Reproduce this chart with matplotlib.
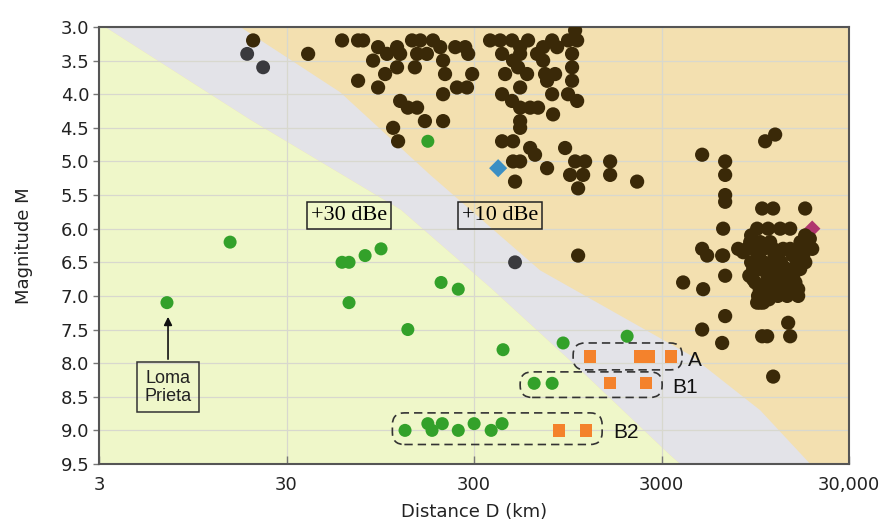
import matplotlib
matplotlib.use("Agg")
import matplotlib.pyplot as plt
from matplotlib.patches import Polygon, FancyBboxPatch

# ---- data (distance km, magnitude) ----
dark_D = [19.9, 39.1, 59.3, 72.2, 76.8, 92.3, 103, 116.5, 121, 86.8, 116.5, 100.6, 72.2, 92.3,
          140, 155, 181, 198, 149, 168, 145, 205, 210, 205, 121, 133, 149, 164, 205, 111, 118,
          238, 269, 279, 293, 243, 275, 365, 413, 478, 582, 782, 951, 1037, 1063, 423, 528, 528,
          484, 650, 700, 831, 999, 700, 439, 515, 575, 717, 811, 999, 999, 735, 528, 423, 478,
          528, 597, 658, 782, 951, 1063, 791, 528, 528, 423, 484, 597, 634, 917,
          484, 528, 735, 1037, 1172, 975, 1144, 1076, 1594, 1594, 2220, 496, 1076,
          12090, 10693, 4933, 6543, 6543, 6543, 6543, 10306, 11797, 17472, 6384, 9692, 11094,
          12856, 14536, 17472, 8896, 10055, 11370, 17907, 8574, 9692, 11797, 13339, 14536,
          17907, 19051, 4933, 7676, 6306, 5246, 6384, 8163, 15841, 17050, 9229, 10433, 11797,
          15081, 16435, 9459, 10960, 12392, 14536, 16035, 12856, 15081, 14008, 16035, 9692,
          10433, 11797, 14183, 3906, 4994, 6543, 6543, 4933, 6306, 10306, 10960, 14536, 11797,
          10055, 12000, 13000, 10000, 9000, 11000, 10000, 13500, 12500, 8800, 10500, 16500, 17500,
          9000, 9500, 10500, 11500, 12500, 9200, 10000, 11000, 12000, 13000, 14000, 15000,
          16000, 17000, 15500, 14800, 18500, 9800, 11200, 12800]
dark_M = [3.2, 3.4, 3.2, 3.2, 3.2, 3.3, 3.4, 3.3, 3.4, 3.5, 3.6, 3.7, 3.8, 3.9,
          3.2, 3.2, 3.2, 3.3, 3.4, 3.4, 3.6, 3.5, 3.7, 4.0, 4.1, 4.2, 4.2, 4.4, 4.4, 4.5, 4.7,
          3.3, 3.3, 3.4, 3.7, 3.9, 3.9, 3.2, 3.2, 3.2, 3.2, 3.2, 3.2, 3.05, 3.2, 3.4, 3.3, 3.4,
          3.5, 3.4, 3.3, 3.3, 3.4, 3.5, 3.7, 3.6, 3.7, 3.7, 3.7, 3.6, 3.8, 3.8, 3.9, 4.0, 4.1,
          4.2, 4.2, 4.2, 4.0, 4.0, 4.1, 4.3, 4.4, 4.5, 4.7, 4.7, 4.8, 4.9, 4.8,
          5.0, 5.0, 5.1, 5.0, 5.0, 5.2, 5.2, 5.4, 5.0, 5.2, 5.3, 5.3, 6.4,
          4.6, 4.7, 4.9, 5.0, 5.2, 5.5, 5.6, 5.7, 5.7, 5.7, 6.0, 6.0, 6.0,
          6.0, 6.0, 6.1, 6.2, 6.2, 6.2, 6.2, 6.3, 6.35, 6.3, 6.3, 6.3,
          6.3, 6.3, 6.3, 6.3, 6.4, 6.4, 6.4, 6.35, 6.5, 6.4, 6.6, 6.6, 6.5,
          6.6, 6.6, 6.8, 6.8, 6.9, 6.8, 6.9, 6.7, 6.7, 7.0, 7.0, 7.1,
          7.1, 6.9, 7.4, 6.8, 6.9, 6.7, 7.3, 7.5, 7.7, 7.6, 7.6, 7.6, 8.2,
          7.1, 6.4, 6.5, 6.45, 6.5, 6.7, 6.9, 6.85, 7.0, 6.7, 6.3, 6.2, 6.5,
          6.1, 6.25, 6.5, 6.55, 6.6, 6.75, 6.6, 6.9, 6.8, 6.95, 6.6, 6.4,
          6.45, 6.3, 6.8, 6.9, 6.15, 7.0, 7.05, 6.35]

grey_D = [18.5, 22.5, 496]
grey_M = [3.4, 3.6, 6.5]

green_D = [170, 15.0, 6.91, 59.3, 64.6, 78.7, 95.7, 64.6, 200, 247, 133, 428, 895, 1964,
           627, 782, 128.5, 170, 179, 203, 247, 300, 370, 423]
green_M = [4.7, 6.2, 7.1, 6.5, 6.5, 6.4, 6.3, 7.1, 6.8, 6.9, 7.5, 7.8, 7.7, 7.6,
           8.3, 8.3, 9.0, 8.9, 9.0, 8.9, 9.0, 8.9, 9.0, 8.9]

orange_D = [1247, 2300, 2550, 3372, 1594, 2480, 852, 1187]
orange_M = [7.9, 7.9, 7.9, 7.9, 8.3, 8.3, 9.0, 9.0]

blue_D, blue_M = [403], [5.1]
pink_D, pink_M = [19051], [6.0]

# region boundaries (distance, magnitude)
green_edge_D = [3.23, 19.2, 122, 374, 1103, 3330, 3766]
green_edge_M = [3.0, 4.38, 5.72, 6.9, 8.1, 9.37, 9.5]
tan_edge_D = [17.0, 57.9, 175, 675, 4257, 10056, 18600]
tan_edge_M = [3.0, 3.97, 5.2, 6.62, 7.88, 8.7, 9.5]

# groups: name, D range, M range, label position
groups = [("A", 1012, 3858, 7.70, 8.10, 4153, 7.96),
          ("B1", 528, 3019, 8.13, 8.51, 3413, 8.36),
          ("B2", 110, 1445, 8.74, 9.21, 1653, 9.03)]

xticks = [3, 30, 300, 3000, 30000]
xtick_labels = ["3", "30", "300", "3000", "30,000"]
yticks = [3.0, 3.5, 4.0, 4.5, 5.0, 5.5, 6.0, 6.5, 7.0, 7.5, 8.0, 8.5, 9.0, 9.5]

fig = plt.figure(figsize=(8.92, 5.25), dpi=100)
ax = fig.add_axes([0.111, 0.1162, 0.841, 0.8324])
ax.set_xscale("log")
ax.set_xlim(3, 30000)
ax.set_ylim(9.5, 3.0)
ax.set_facecolor("#f3e0b0")

# background bands
green_poly = [(3, 3.0)] + list(zip(green_edge_D, green_edge_M)) + [(3, 9.5)]
grey_poly = list(zip(green_edge_D, green_edge_M)) + list(zip(tan_edge_D, tan_edge_M))[::-1]
ax.add_patch(Polygon(grey_poly, closed=True, fc="#e3e3e8", ec="none", zorder=0.2))
ax.add_patch(Polygon(green_poly, closed=True, fc="#eff7c9", ec="none", zorder=0.2))

ax.set_axisbelow(True)
ax.grid(True, color="#d8d8ce", lw=0.9)

ax.scatter(dark_D, dark_M, s=105, c="#3a2908", edgecolors="none", zorder=3)
ax.scatter(grey_D, grey_M, s=100, c="#3a3a3e", edgecolors="none", zorder=3)
ax.scatter(green_D, green_M, s=88, c="#33a12a", edgecolors="none", zorder=3)
ax.scatter(orange_D, orange_M, s=78, marker="s", c="#f4822c", edgecolors="none", zorder=3)
ax.scatter(blue_D, blue_M, s=85, marker="D", c="#3b8fc4", edgecolors="none", zorder=3)
ax.scatter(pink_D, pink_M, s=70, marker="D", c="#b0356f", edgecolors="none", zorder=2.9)

# dashed rounded group boxes
to_axes = ax.transData + ax.transAxes.inverted()
for name, d0, d1, m0, m1, tx, ty in groups:
    (x0, y0), (x1, y1) = to_axes.transform([(d0, m1), (d1, m0)])
    box = FancyBboxPatch((x0, y0), x1 - x0, y1 - y0,
                         boxstyle="round,pad=0,rounding_size=0.016",
                         mutation_aspect=750 / 437, transform=ax.transAxes,
                         fc="none", ec="#333333", lw=1.2, ls=(0, (5, 3)), zorder=4)
    ax.add_patch(box)
    ax.text(tx, ty, name, fontsize=15, family="Liberation Sans", ha="left", va="center",
            color="#111111", zorder=5)

# dBe labels
for xv, label in [(64.6, "+30 dBe"), (413, "+10 dBe")]:
    ax.text(xv, 5.8, label, fontsize=16, family="Liberation Serif", ha="center", va="center",
            zorder=5, bbox=dict(boxstyle="square,pad=0.18", fc="none", ec="#222222", lw=1.1))

ax.annotate("Loma\nPrieta", xy=(7.0, 7.27), xytext=(7.0, 8.36), fontsize=13,
            family="Liberation Sans", ha="center", va="center", color="#222222", zorder=5,
            linespacing=1.1,
            bbox=dict(boxstyle="square,pad=0.4", fc="none", ec="#333333", lw=1.1),
            arrowprops=dict(arrowstyle="-|>", color="#111111", lw=1.2, mutation_scale=12))

ax.set_xticks(xticks)
ax.set_xticklabels(xtick_labels)
ax.minorticks_off()
ax.set_yticks(yticks)
ax.set_yticklabels([f"{v:.1f}" for v in yticks])
ax.tick_params(axis="y", direction="out", length=4, width=1, color="#777777",
               labelsize=13, labelcolor="#222222", pad=3)
ax.tick_params(axis="x", direction="in", length=6, width=1, color="#777777",
               labelsize=13, labelcolor="#222222", pad=9)
for sp in ax.spines.values():
    sp.set_color("#555555")
    sp.set_linewidth(1.5)

ax.set_xlabel("Distance D (km)", fontsize=13, color="#222222", labelpad=6)
ax.set_ylabel("Magnitude M", fontsize=13, color="#222222", labelpad=20)

fig.savefig("out.png", dpi=100)
